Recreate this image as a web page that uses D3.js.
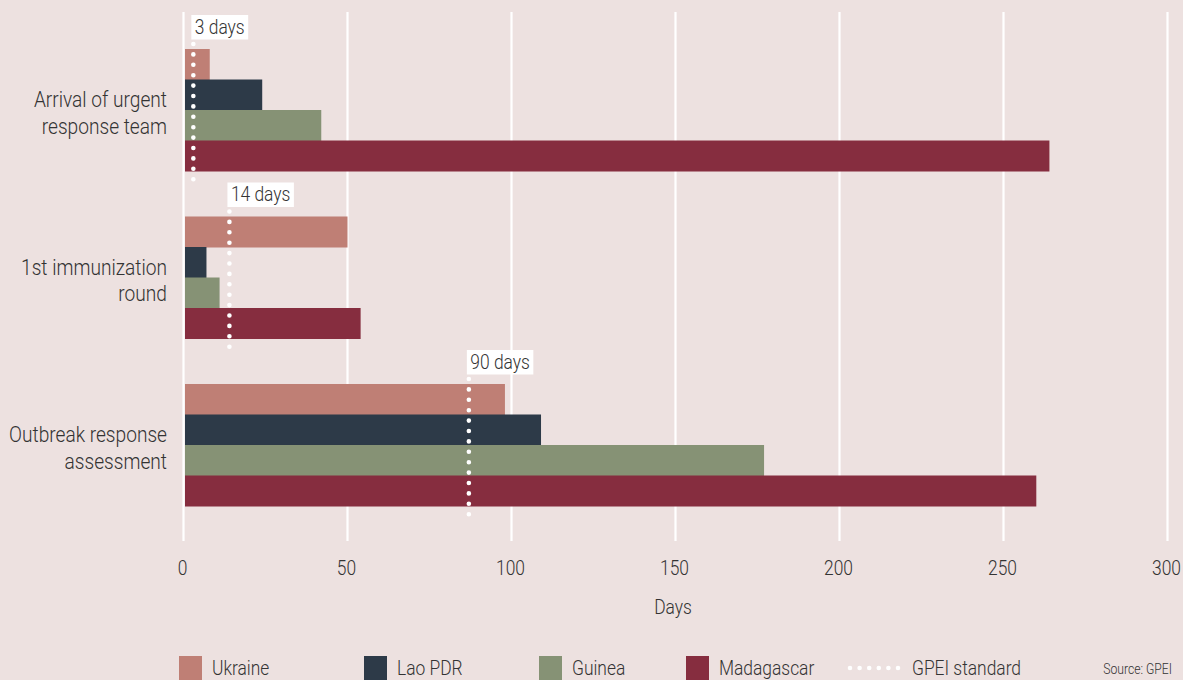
<!DOCTYPE html>
<html><head><meta charset="utf-8">
<script src="https://cdn.jsdelivr.net/npm/d3@7"></script>
<style>
body{margin:0;background:#ede1e0;}
svg{display:block;}
text{font-family:Roboto,"Liberation Sans",sans-serif;font-weight:300;fill:#333;}
</style></head>
<body>
<script>
const categories = ["Arrival of urgent response team", "1st immunization round", "Outbreak response assessment"];
const categoryLines = [["Arrival of urgent","response team"],["1st immunization","round"],["Outbreak response","assessment"]];
const series = ["Ukraine", "Lao PDR", "Guinea", "Madagascar"];
const ukraine = [8, 50, 98];
const laoPDR = [24, 7, 109];
const guinea = [42, 11, 177];
const madagascar = [264, 54, 260];
const standardPos = [3, 14, 87];
const standardLabels = ["3 days", "14 days", "90 days"];
const xTicks = [0, 50, 100, 150, 200, 250, 300];
const colors = ["#bf7f75", "#2d3a48", "#869275", "#862d3f"];

const values = [ukraine, laoPDR, guinea, madagascar];
const W = 1183, H = 680, SX = 0.87;
const svg = d3.select("body").append("svg").attr("width", W).attr("height", H);
svg.append("rect").attr("width", W).attr("height", H).attr("fill", "#ede1e0");

function addText(parent, px, py, str, size, anchor) {
  return parent.append("text")
    .attr("transform", `translate(${px},${py}) scale(${SX},1)`)
    .attr("font-size", size).attr("text-anchor", anchor || "start").text(str);
}

const x = d3.scaleLinear().domain([0, 300]).range([183.5, 1167.5]);
const y = d3.scaleBand().domain(categories).range([49, 506]).paddingInner(0.2716).paddingOuter(0);
const yi = d3.scaleBand().domain(series).range([0, y.bandwidth()]);

// gridlines
svg.append("g").selectAll("line").data(xTicks).join("line")
  .attr("x1", d => x(d)).attr("x2", d => x(d))
  .attr("y1", 12).attr("y2", 541)
  .attr("stroke", "#fff").attr("stroke-width", 2.2);

// bars
const g = svg.append("g");
categories.forEach((c, ci) => {
  series.forEach((s, si) => {
    g.append("rect")
      .attr("x", x(0) + 1.5)
      .attr("y", y(c) + yi(s))
      .attr("width", x(values[si][ci]) - x(0) - 1.5)
      .attr("height", yi.bandwidth() + 0.5)
      .attr("fill", colors[si]);
  });
});

// standards
categories.forEach((c, ci) => {
  const xs = x(standardPos[ci]);
  const top = y(c) - 5, bot = y(c) + y.bandwidth() + 10;
  svg.append("line").attr("x1", xs).attr("x2", xs).attr("y1", top).attr("y2", bot)
    .attr("stroke", "#fff").attr("stroke-width", 4.6)
    .attr("stroke-linecap", "round").attr("stroke-dasharray", "0 10.4");
  const t = addText(svg, xs + 1.5, top - 10, standardLabels[ci], 20);
  const bb = t.node().getBBox();
  svg.insert("rect", () => t.node())
    .attr("x", xs - 2).attr("y", top - 29)
    .attr("width", bb.width * SX + 7).attr("height", 24.5).attr("fill", "#fff");
});

// category labels
categories.forEach((c, ci) => {
  const cy = y(c) + y.bandwidth() / 2 + 3;
  categoryLines[ci].forEach((ln, li) => {
    addText(svg, 167, cy + 7.5 + (li - 0.5) * 26.5, ln, 22, "end");
  });
});

// x tick labels
xTicks.forEach(d => addText(svg, x(d) - 1, 575, d, 20, "middle"));
addText(svg, 673, 614, "Days", 20, "middle");

// legend
const legX = [179, 364, 539, 686];
series.forEach((s, si) => {
  svg.append("rect").attr("x", legX[si]).attr("y", 656).attr("width", 23).attr("height", 24).attr("fill", colors[si]);
  addText(svg, legX[si] + 33, 675, s, 20);
});
svg.append("line").attr("x1", 850).attr("x2", 899).attr("y1", 668).attr("y2", 668)
  .attr("stroke", "#fff").attr("stroke-width", 4.6).attr("stroke-linecap", "round").attr("stroke-dasharray", "0 9.6");
addText(svg, 912, 675, "GPEI standard", 20);
addText(svg, 1172, 674, "Source: GPEI", 14, "end");
</script>
</body></html>
